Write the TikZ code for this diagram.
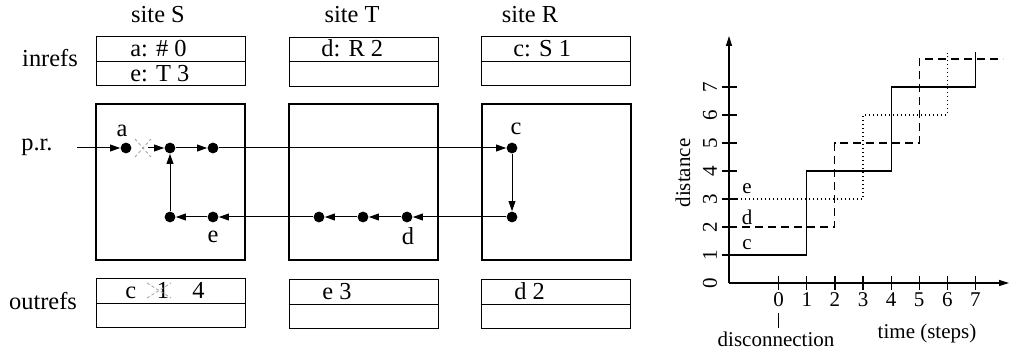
\documentclass[tikz,border=0pt]{standalone}
\usepackage{fontspec}
\setmainfont{Liberation Serif}
\usetikzlibrary{arrows.meta}
\begin{document}
\begin{tikzpicture}[x=0.5pt,y=-0.5pt,
  big/.style={font=\fontsize{12.2}{14}\selectfont,inner sep=0pt},
  small/.style={font=\fontsize{10.5}{12}\selectfont,inner sep=0pt},
  dot/.style={circle,fill=black,inner sep=0pt,minimum size=5.4pt},
  refbox/.style={draw,line width=0.5pt,minimum width=74.5pt,minimum height=24.5pt,inner sep=0pt},
  sitebox/.style={draw,line width=1.1pt,minimum width=74.5pt,minimum height=78pt,inner sep=0pt},
  link/.style={line width=0.5pt,-{Triangle[length=5pt,width=3.4pt]}},
  erase/.style={gray!70,line width=0.45pt,dash pattern=on 1.5pt off 1.2pt},
  axis/.style={line width=0.6pt,-{Triangle[length=5pt,width=3pt]}},
  curve/.style={line width=0.55pt},
  tick/.style={line width=0.6pt}
]
\useasboundingbox (0,0) rectangle (1010,351);

% site titles
\node[big,anchor=base] (tS) at (158,23) {site S};
\node[big,anchor=base] (tT) at (352,23) {site T};
\node[big,anchor=base] (tR) at (530,23) {site R};

% row labels
\node[big,anchor=base] (lin) at (50,67) {inrefs};
\node[big,anchor=base] (lpr) at (37,151) {p.r.};
\node[big,anchor=base] (lout) at (43,310) {outrefs};

% inref boxes
\node[refbox] (inS) at (170.5,61.5) {};
\node[refbox] (inT) at (363.5,62) {};
\node[refbox] (inR) at (555.5,61.5) {};
\foreach \b in {inS,inT,inR}{\draw[line width=0.5pt] (\b.west) -- (\b.east);}
\node[big,anchor=base west] (inS1) at (130,57) {a: \# 0};
\node[big,anchor=base west] (inS2) at (130,82) {e: T 3};
\node[big,anchor=base west] (inT1) at (321,57) {d: R 2};
\node[big,anchor=base west] (inR1) at (513,57) {c: S 1};

% outref boxes
\node[refbox] (outS) at (170.5,303.5) {};
\node[refbox] (outT) at (363.5,304.5) {};
\node[refbox] (outR) at (555.5,304.5) {};
\foreach \b in {outS,outT,outR}{\draw[line width=0.5pt] (\b.west) -- (\b.east);}
\node[big,anchor=base west] (outS1) at (125,299) {c};
\node[big,anchor=base] (outS2) at (163,299) {1};
\node[big,anchor=base west] (outS3) at (192,299) {4};
\draw[erase] (147,283) -- (171,298);
\draw[erase] (147,298) -- (171,283);
\node[big,anchor=base west] (outT1) at (322,300) {e 3};
\node[big,anchor=base west] (outR1) at (514,300) {d 2};

% site boxes
\node[sitebox] (bS) at (170.5,182) {};
\node[sitebox] (bT) at (363.5,182) {};
\node[sitebox] (bR) at (556.5,182) {};

% dots
\node[dot] (a) at (126,148) {};
\node[dot] (s2) at (170,148) {};
\node[dot] (s3) at (213,148) {};
\node[dot] (c1) at (512,148) {};
\node[dot] (c2) at (512,217) {};
\node[dot] (d1) at (407,217) {};
\node[dot] (t2) at (363,217) {};
\node[dot] (t1) at (319,217) {};
\node[dot] (e1) at (213,217) {};
\node[dot] (s4) at (170,217) {};

\node[big,anchor=base] (la) at (122,137) {a};
\node[big,anchor=base] (lc) at (516,135) {c};
\node[big,anchor=base] (le) at (213,243) {e};
\node[big,anchor=base] (ld) at (408,245) {d};

\coordinate (prs) at (77,148);
\coordinate (cut) at (148,148);
\draw[link] (prs) -- (a);
\draw[erase] (135,139) -- (151,157);
\draw[erase] (135,157) -- (151,139);
\draw[link] (cut) -- (s2);
\draw[link] (s2) -- (s3);
\draw[link] (s3) -- (c1);
\draw[link] (c1) -- (c2);
\draw[link] (c2) -- (d1);
\draw[link] (d1) -- (t2);
\draw[link] (t2) -- (t1);
\draw[link] (t1) -- (e1);
\draw[link] (e1) -- (s4);
\draw[link] (s4) -- (s2);

% graph
\coordinate (O) at (729,283);
\coordinate (ytop) at (729,36);
\coordinate (xend) at (1009,283);
\draw[axis] (O) -- (ytop);
\draw[axis] (O) -- (xend);
\foreach \i in {1,...,7}{
  \draw[tick] (722,283-28*\i) -- (737,283-28*\i);
}
\foreach \i in {0,...,7}{
  \node[small,rotate=90] (yl\i) at (710,283-28*\i) {\i};
  \draw[tick] (778.7+28.1*\i,276) -- (778.7+28.1*\i,290);
  \node[small] (xl\i) at (778.7+28.1*\i,300) {\i};
}
\node[small,rotate=90] (dist) at (683,173) {distance};
\draw[tick] (778.7,313) -- (778.7,328);
\node[small,anchor=base] (disc) at (776,347) {disconnection};
\node[small,anchor=base] (time) at (927,339) {time (steps)};

% step curves
\draw[curve] (729,255) -- (806.8,255) -- (806.8,171) -- (891.1,171) -- (891.1,87) -- (975.4,87) -- (975.4,52);
\draw[curve,dash pattern=on 4pt off 2.5pt] (729,227) -- (834.9,227) -- (834.9,143) -- (919.2,143) -- (919.2,59) -- (1003,59);
\draw[curve,dash pattern=on 0.5pt off 1.5pt] (729,199) -- (863,199) -- (863,115) -- (947.3,115) -- (947.3,53);
\node[small] (gc) at (747,245) {c};
\node[small] (gd) at (747,217) {d};
\node[small] (ge) at (747,189) {e};
\end{tikzpicture}
\end{document}
